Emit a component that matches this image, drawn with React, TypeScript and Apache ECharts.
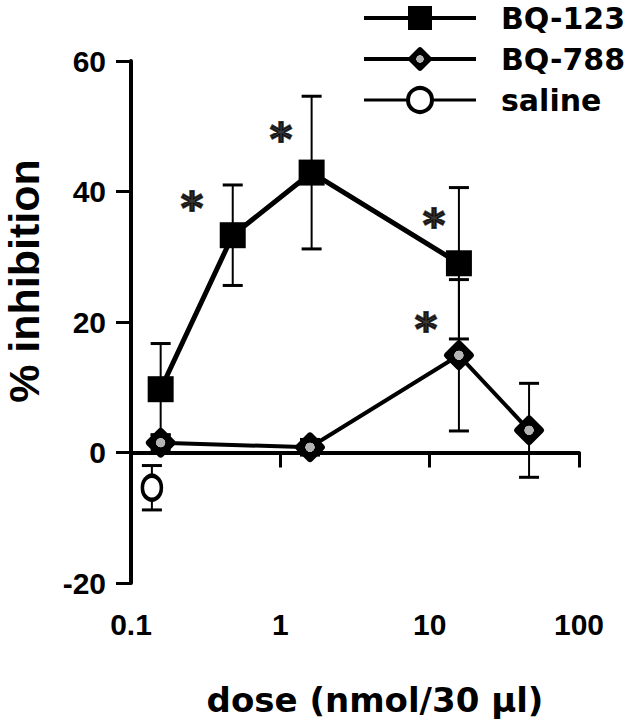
import React, { useEffect, useRef } from "react";
import * as echarts from "echarts";

// ---- data ----
const bq123Dose = [0.158, 0.48, 1.62, 15.7];
const bq123Inh = [9.7, 33.3, 42.9, 29.0];
const bq123Err = [7.0, 7.7, 11.7, 11.6];

const bq788Dose = [0.158, 1.58, 15.7, 46.3];
const bq788Inh = [1.5, 0.8, 14.9, 3.4];
const bq788Err = [1.2, 1.2, 11.6, 7.2];

const salineDose = [0.138];
const salineInh = [-5.4];
const salineErr = [3.4];

// significance asterisks (dose, % inhibition)
const sigDose = [0.256, 1.01, 10.7, 9.46];
const sigInh = [38.5, 49.0, 35.9, 19.9];

const seriesNames = ["BQ-123", "BQ-788", "saline"];
const xTickLabels = ["0.1", "1", "10", "100"];
const yTicks = [-20, 0, 20, 40, 60];

const FONT = "'Liberation Sans', Arial, Helvetica, sans-serif";
const WIDE = "'DejaVu Sans', sans-serif";

const diamondPath =
  "path://M50 2 Q54 2 58 6 L94 42 Q98 46 98 50 Q98 54 94 58 L58 94 Q54 98 50 98 Q46 98 42 94 L6 58 Q2 54 2 50 Q2 46 6 42 L42 6 Q46 2 50 2 Z";

const diamondFill = {
  type: "radial",
  x: 0.5,
  y: 0.5,
  r: 0.5,
  colorStops: [
    { offset: 0, color: "#b4b4b4" },
    { offset: 0.3, color: "#b4b4b4" },
    { offset: 0.33, color: "#000" },
    { offset: 1, color: "#000" },
  ],
};

function pairs(xs: number[], ys: number[]) {
  return xs.map((x, i) => [x, ys[i]]);
}
function errRows(xs: number[], ys: number[], es: number[]) {
  return xs.map((x, i) => [x, ys[i] - es[i], ys[i] + es[i]]);
}

export default function App() {
  const ref = useRef<HTMLDivElement>(null);
  useEffect(() => {
    if (!ref.current) return;
    const chart = echarts.init(ref.current, undefined, { renderer: "svg" });
    const cap = 10;
    const errSeries = (name: string, rows: number[][]) => ({
      type: "custom",
      name: name + "-err",
      data: rows,
      encode: { x: 0, y: [1, 2] },
      z: 1,
      silent: true,
      renderItem: (params: any, api: any) => {
        const x = api.value(0);
        const lo = api.coord([x, api.value(1)]);
        const hi = api.coord([x, api.value(2)]);
        const st = { stroke: "#000", lineWidth: 2 };
        const stc = { stroke: "#000", lineWidth: 3 };
        return {
          type: "group",
          children: [
            { type: "line", shape: { x1: lo[0], y1: lo[1], x2: hi[0], y2: hi[1] }, style: st },
            { type: "line", shape: { x1: hi[0] - cap, y1: hi[1], x2: hi[0] + cap, y2: hi[1] }, style: stc },
            { type: "line", shape: { x1: lo[0] - cap, y1: lo[1], x2: lo[0] + cap, y2: lo[1] }, style: stc },
          ],
        };
      },
    });

    const option: any = {
      animation: false,
      backgroundColor: "#fff",
      grid: { left: 131, top: 61, width: 448, height: 522, containLabel: false, outerBoundsMode: "none" },
      legend: {
        orient: "vertical",
        left: 362,
        top: 3,
        padding: 0,
        itemWidth: 112,
        itemHeight: 30,
        itemGap: 11,
        selectedMode: false,
        textStyle: {
          fontSize: 30,
          lineHeight: 30,
          fontWeight: "bold",
          fontFamily: WIDE,
          color: "#000",
          padding: [0, 0, 0, 20],
        },
        data: [
          { name: seriesNames[0], lineStyle: { width: 4, color: "#000" }, itemStyle: { color: "#000", borderWidth: 0 } },
          { name: seriesNames[1], lineStyle: { width: 4, color: "#000" }, itemStyle: { color: diamondFill, borderWidth: 0 } },
          { name: seriesNames[2], lineStyle: { width: 3, color: "#000" }, itemStyle: { color: "#fff", borderColor: "#000", borderWidth: 4 } },
        ],
      },
      xAxis: {
        type: "log",
        logBase: 10,
        min: 0.1,
        max: 100,
        name: "dose (nmol/30 µl)",
        nameLocation: "middle",
        nameGap: 117,
        nameTextStyle: {
          fontSize: 34,
          fontWeight: "bold",
          fontFamily: WIDE,
          color: "#000",
          verticalAlign: "middle",
          padding: [0, 0, 0, 40],
        },
        axisLine: { lineStyle: { color: "#000", width: 4 } },
        axisTick: { length: 15, lineStyle: { color: "#000", width: 3 } },
        minorTick: { show: false },
        splitLine: { show: false },
        axisLabel: {
          margin: 26,
          fontSize: 30,
          fontWeight: "bold",
          fontFamily: FONT,
          color: "#000",
          formatter: (v: number) => {
            const i = Math.round(Math.log10(v)) + 1;
            return xTickLabels[i] ?? String(v);
          },
        },
      },
      yAxis: {
        type: "value",
        min: yTicks[0],
        max: yTicks[yTicks.length - 1],
        interval: 20,
        name: "% inhibition",
        nameLocation: "middle",
        nameRotate: 90,
        nameGap: 107,
        nameTextStyle: {
          fontSize: 43,
          fontWeight: "bold",
          fontFamily: FONT,
          color: "#000",
          verticalAlign: "middle",
          align: "center",
          padding: [0, 0, 0, 82],
        },
        axisLine: { show: true, lineStyle: { color: "#000", width: 4 } },
        axisTick: { show: true, length: 15, lineStyle: { color: "#000", width: 3 } },
        splitLine: { show: false },
        axisLabel: {
          margin: 25,
          fontSize: 30,
          fontWeight: "bold",
          fontFamily: FONT,
          color: "#000",
        },
      },
      series: [
        errSeries("BQ-123", errRows(bq123Dose, bq123Inh, bq123Err)),
        errSeries("BQ-788", errRows(bq788Dose, bq788Inh, bq788Err)),
        errSeries("saline", errRows(salineDose, salineInh, salineErr)),
        {
          type: "line",
          name: seriesNames[0],
          data: pairs(bq123Dose, bq123Inh),
          symbol: "rect",
          symbolSize: 26,
          z: 3,
          lineStyle: { color: "#000", width: 5 },
          itemStyle: { color: "#000" },
        },
        {
          type: "line",
          name: seriesNames[1],
          data: pairs(bq788Dose, bq788Inh),
          symbol: diamondPath,
          symbolSize: 30,
          z: 3,
          lineStyle: { color: "#000", width: 4 },
          itemStyle: { color: diamondFill },
        },
        {
          type: "line",
          name: seriesNames[2],
          data: pairs(salineDose, salineInh),
          symbol: "circle",
          symbolSize: [19, 24],
          z: 3,
          lineStyle: { color: "#000", width: 3 },
          itemStyle: { color: "#fff", borderColor: "#000", borderWidth: 4 },
        },
        {
          type: "scatter",
          name: "sig",
          data: pairs(sigDose, sigInh),
          symbol: "circle",
          symbolSize: 1,
          z: 4,
          silent: true,
          itemStyle: { color: "rgba(0,0,0,0)" },
          label: {
            show: true,
            position: "inside",
            formatter: "*",
            fontSize: 42,
            fontWeight: "bold",
            fontFamily: WIDE,
            color: "#000",
            textBorderColor: "#000",
            textBorderWidth: 2,
            offset: [0, 7],
          },
        },
      ],
    };
    chart.setOption(option);
    return () => chart.dispose();
  }, []);
  return <div ref={ref} style={{ width: 642, height: 720, position: "absolute", left: 0, top: 0 }} />;
}
